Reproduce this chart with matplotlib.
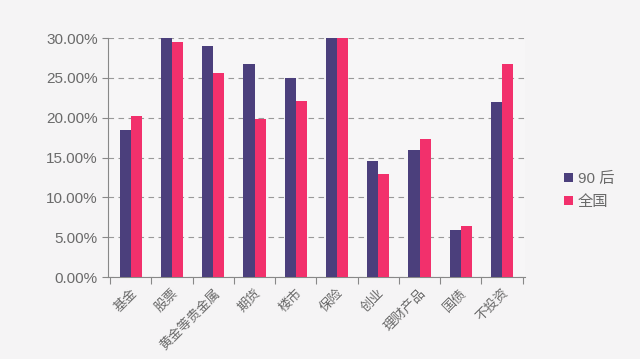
import numpy as np
import matplotlib
matplotlib.use("Agg")
import matplotlib.pyplot as plt
from matplotlib.ticker import FuncFormatter, FixedLocator

plt.rcParams["font.family"] = ["Liberation Sans", "Noto Sans CJK SC", "DejaVu Sans"]

categories = ["基金", "股票", "黄金等贵金属", "期货", "楼市", "保险", "创业", "理财产品", "国债", "不投资"]
post90 = [18.5, 30.0, 29.0, 26.7, 25.0, 30.0, 14.6, 15.9, 5.9, 22.0]
national = [20.2, 29.5, 25.6, 19.8, 22.1, 30.0, 12.9, 17.3, 6.4, 26.7]
series_names = ["90 后", "全国"]

c_dark = "#4b3f7c"
c_pink = "#f2306c"
text_c = "#6a6a6a"

fig = plt.figure(figsize = (6.4, 3.59), dpi = 100)
fig.patch.set_facecolor("#f5f4f5")
ax = fig.add_axes([0.169, 0.228, 0.651, 0.666])
ax.set_facecolor("#f7f6f7")

x = np.arange(len(categories))
w = 0.27
ax.bar(x - w / 2, post90, width = w, color = c_dark, label = series_names[0], zorder = 3)
ax.bar(x + w / 2, national, width = w, color = c_pink, label = series_names[1], zorder = 3)

ax.set_xlim(-0.55, len(categories) - 0.45)
ax.set_ylim(0, 30)
ax.set_yticks(np.arange(0, 31, 5))
ax.yaxis.set_major_formatter(FuncFormatter(lambda v, p: "%.2f%%" % v))
ax.yaxis.grid(True, linestyle = (0, (5, 4)), color = "#999999", linewidth = 0.8, zorder = 0)

ax.xaxis.set_major_locator(FixedLocator(np.arange(-0.5, len(categories), 1.0)))
ax.xaxis.set_minor_locator(FixedLocator(x))
ax.set_xticklabels([])
ax.set_xticklabels(categories, minor = True, rotation = 45, ha = "right", rotation_mode = "anchor")
ax.tick_params(axis = "x", which = "major", length = 5, color = "#888888", direction = "out")
ax.tick_params(axis = "x", which = "minor", length = 0, pad = 7, labelsize = 9.5, labelcolor = text_c)
ax.tick_params(axis = "y", length = 4, color = "#888888", labelsize = 11, labelcolor = text_c)

for s in ["top", "right"]:
    ax.spines[s].set_visible(False)
for s in ["left", "bottom"]:
    ax.spines[s].set_color("#888888")
    ax.spines[s].set_linewidth(0.8)

leg = fig.legend(loc = "center left", bbox_to_anchor = (0.86, 0.47), frameon = False,
                 handlelength = 0.6, handleheight = 0.6, handletextpad = 0.3,
                 labelspacing = 0.6, fontsize = 11, labelcolor = text_c)

fig.savefig("out.png", dpi = 100, facecolor = fig.get_facecolor())
